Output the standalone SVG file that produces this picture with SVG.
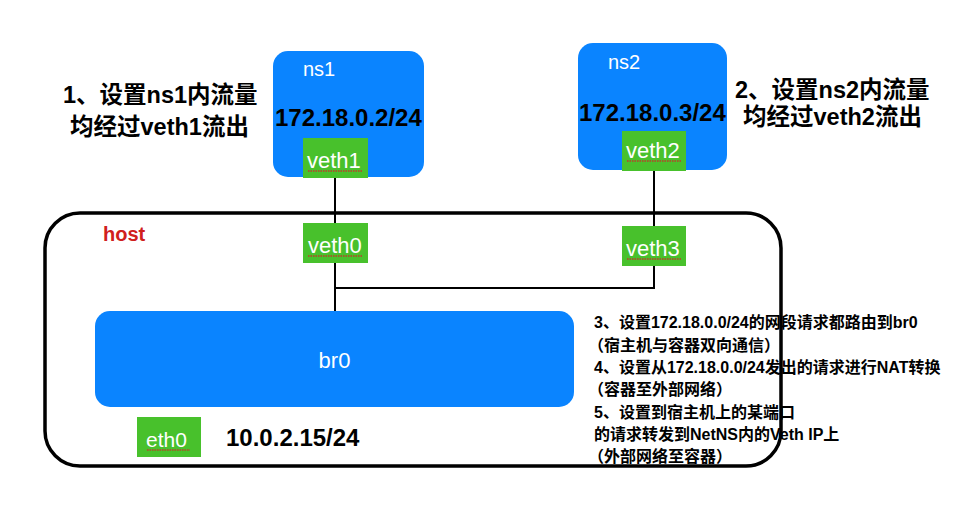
<svg xmlns="http://www.w3.org/2000/svg" width="955" height="511" viewBox="0 0 955 511">
<style>
.blue{fill:#0a84ff}
.green{fill:#48c12c}
.wl{fill:#ffffff;font-family:"Liberation Sans",Arial,sans-serif;font-size:22px}
.bk{fill:#000000;font-family:"Liberation Sans",Arial,sans-serif;font-weight:bold;font-size:24px}
.cn{fill:#000000;font-family:"Liberation Sans","Noto Sans CJK SC",sans-serif;font-weight:bold}
.ln{stroke:#000000;stroke-width:2;fill:none}
.sp{stroke:#c0392b;stroke-width:1.3;stroke-dasharray:1.5 1;fill:none}
</style>
<rect width="955" height="511" fill="#ffffff"/>
<g id="connectors">
<line class="ln" x1="335" y1="177" x2="335" y2="223"/>
<line class="ln" x1="335" y1="255" x2="335" y2="311"/>
<line class="ln" x1="654" y1="170" x2="654" y2="226"/>
<polyline class="ln" points="654,266 654,288 335,288"/>
</g>
<g id="host">
<rect x="45" y="213" width="736" height="253" rx="35" fill="none" stroke="#000000" stroke-width="3.5"/>
<text x="103" y="241" style="font-family:'Liberation Sans',Arial,sans-serif;font-weight:bold;font-size:20px" fill="#d0201c">host</text>
</g>
<g id="ns1">
<rect class="blue" x="273" y="51" width="151" height="126" rx="15"/>
<text class="wl" x="303" y="76" style="font-size:20px">ns1</text>
<text class="bk" x="275" y="126">172.18.0.2/24</text>
</g>
<g id="veth1">
<rect class="green" x="303" y="138" width="65" height="40"/>
<text class="wl" x="307" y="168">veth1</text>
<line class="sp" x1="308" y1="171" x2="362" y2="171"/>
</g>
<g id="ns2">
<rect class="blue" x="578" y="43" width="149" height="127" rx="15"/>
<text class="wl" x="608" y="69" style="font-size:20px">ns2</text>
<text class="bk" x="579" y="121">172.18.0.3/24</text>
</g>
<g id="veth2">
<rect class="green" x="622" y="131" width="64" height="40"/>
<text class="wl" x="626" y="158">veth2</text>
<line class="sp" x1="627" y1="161" x2="681" y2="161"/>
</g>
<g id="veth0">
<rect class="green" x="303" y="223" width="65" height="40"/>
<text class="wl" x="308" y="253">veth0</text>
<line class="sp" x1="308" y1="256" x2="362" y2="256"/>
</g>
<g id="veth3">
<rect class="green" x="622" y="226" width="64" height="40"/>
<text class="wl" x="626" y="256">veth3</text>
<line class="sp" x1="627" y1="259" x2="681" y2="259"/>
</g>
<g id="br0">
<rect class="blue" x="95" y="311" width="479" height="96" rx="15"/>
<text class="wl" x="334.5" y="368" text-anchor="middle" style="font-size:22px">br0</text>
</g>
<g id="eth0">
<rect class="green" x="137" y="417" width="64" height="40"/>
<text class="wl" x="146" y="447" style="font-size:21px">eth0</text>
<line class="sp" x1="147" y1="450" x2="190" y2="450"/>
<text class="bk" x="226" y="446">10.0.2.15/24</text>
</g>
<g id="note1" style="font-size:23.5px">
<text class="cn" x="63" y="103">1、设置ns1内流量</text>
<text class="cn" x="70" y="135">均经过veth1流出</text>
</g>
<g id="note2" style="font-size:23.5px">
<text class="cn" x="735" y="98">2、设置ns2内流量</text>
<text class="cn" x="743" y="125">均经过veth2流出</text>
</g>
<g id="note3" style="font-size:16px">
<text class="cn" x="594" y="328">3、设置172.18.0.0/24的网段请求都路由到br0</text>
<text class="cn" x="588" y="351">（宿主机与容器双向通信）</text>
<text class="cn" x="594" y="373">4、设置从172.18.0.0/24发出的请求进行NAT转换</text>
<text class="cn" x="588" y="395">（容器至外部网络）</text>
<text class="cn" x="594" y="418">5、设置到宿主机上的某端口</text>
<text class="cn" x="594" y="440">的请求转发到NetNS内的Veth IP上</text>
<text class="cn" x="588" y="462">（外部网络至容器）</text>
</g>
</svg>
